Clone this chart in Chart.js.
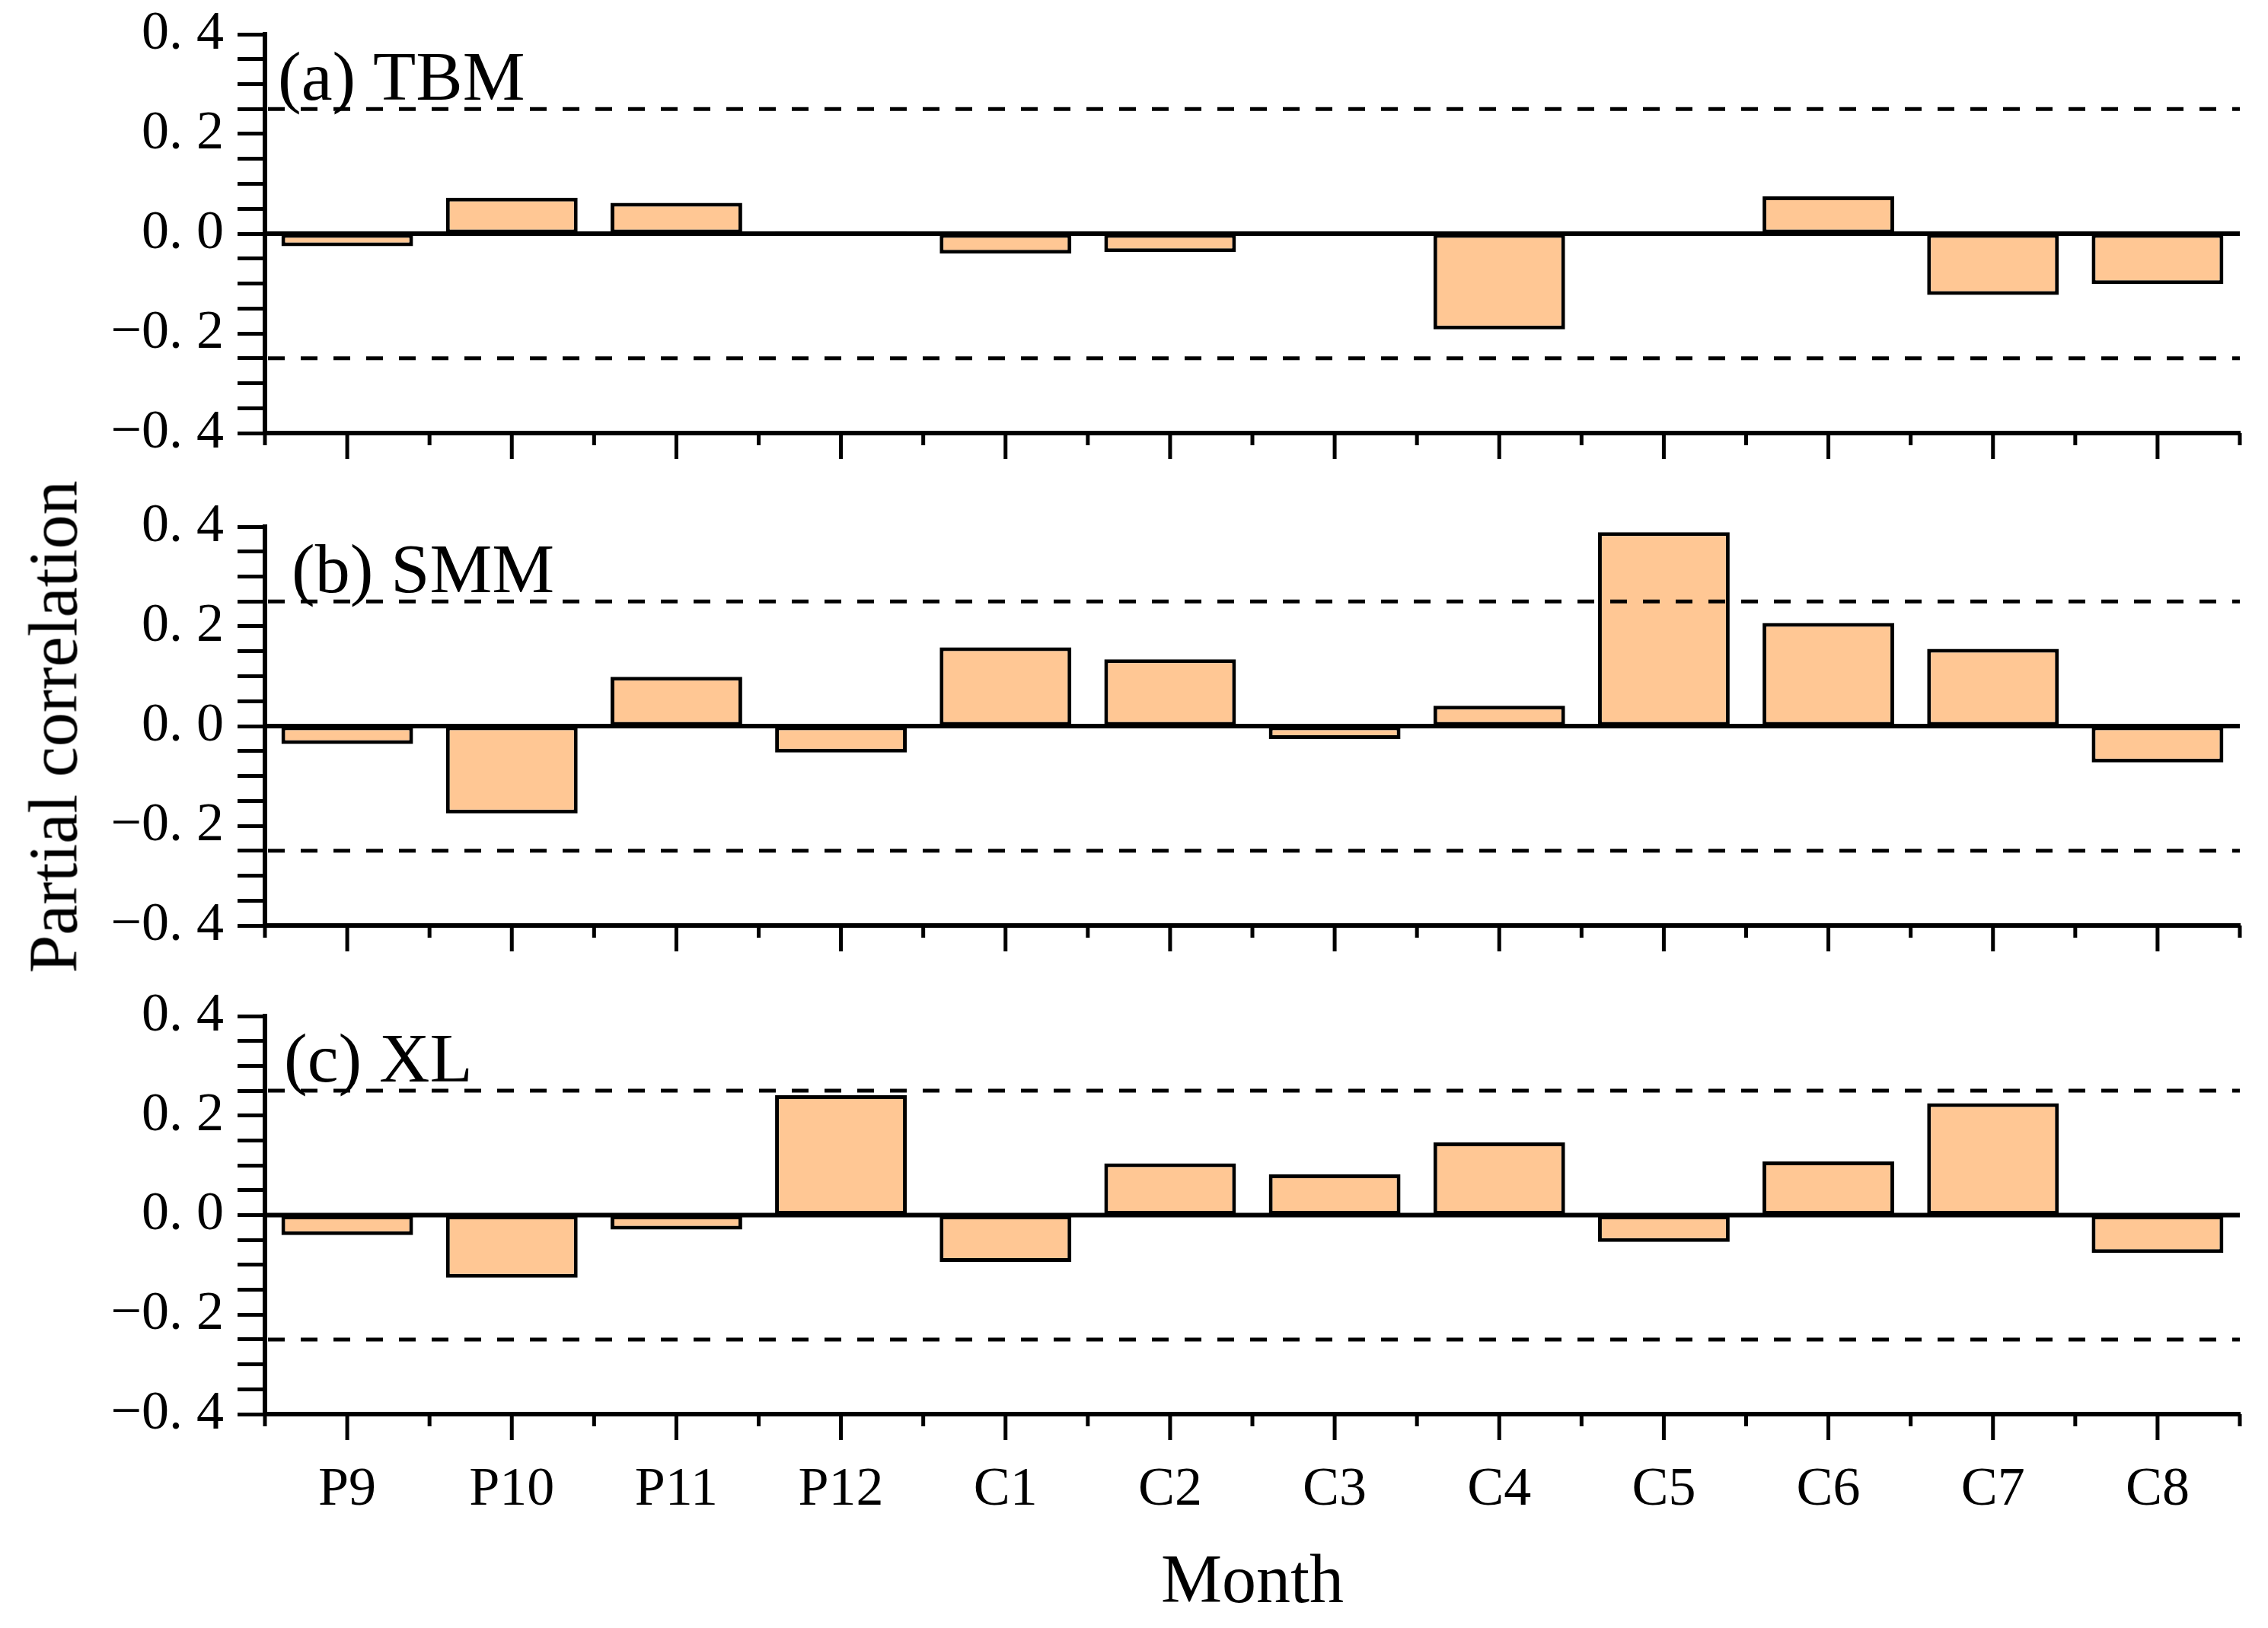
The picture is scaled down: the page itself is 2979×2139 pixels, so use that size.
<!DOCTYPE html>
<html>
<head>
<meta charset="utf-8">
<script src="https://cdn.jsdelivr.net/npm/chart.js@4.4.0/dist/chart.umd.min.js"></script>
<style>
    body { margin: 0; background: #fff; }
    #wrap { position: relative; width: 2979px; height: 2139px; overflow: hidden; background: #fff; }
    canvas { position: absolute; left: 0; }
    #yTitle {
        position: absolute; left: 70px; top: 955px;
        transform: translate(-50%, -50%) rotate(-90deg);
        font-family: "Liberation Serif", "DejaVu Serif", serif;
        font-size: 90px; white-space: nowrap; color: #000;
    }
</style>
</head>
<body>
<div id="wrap">
    <canvas id="chartA" width="2979" height="639" style="top:-9px"></canvas>
    <canvas id="chartB" width="2979" height="639" style="top:638px"></canvas>
    <canvas id="chartC" width="2979" height="858" style="top:1281px"></canvas>
    <div id="yTitle">Partial correlation</div>
</div>
<script>
// data
const months = ['P9', 'P10', 'P11', 'P12', 'C1', 'C2', 'C3', 'C4', 'C5', 'C6', 'C7', 'C8'];
const tbm = [-0.025, 0.072, 0.062, 0.005, -0.040, -0.037, 0, -0.192, 0, 0.075, -0.123, -0.101];
const smm = [-0.036, -0.175, 0.099, -0.053, 0.158, 0.134, -0.026, 0.041, 0.389, 0.207, 0.155, -0.073];
const xl = [-0.040, -0.126, -0.029, 0.241, -0.094, 0.104, 0.082, 0.146, -0.054, 0.108, 0.225, -0.076];
const sigLevels = [0.25, -0.25];
const yTicks = [-0.4, -0.2, 0, 0.2, 0.4];

const FONT = '"Liberation Serif", "DejaVu Serif", serif';

function fmtTick(v) {
    // 0.2 -> "0. 2", -0.2 -> "−0. 2"
    const s = Math.abs(v).toFixed(1).replace('.', '. ');
    return (v < -1e-9 ? '\u2212' : '') + s;
}

// dashed significance lines, zero line, x tick marks and panel label
const panelDecor = {
    id: 'panelDecor',
    afterDatasetsDraw(chart, args, opts) {
        const ctx = chart.ctx;
        const x = chart.scales.x, y = chart.scales.y;
        const area = chart.chartArea;
        ctx.save();
        // zero line
        ctx.strokeStyle = '#000';
        ctx.lineWidth = 6;
        ctx.beginPath();
        ctx.moveTo(area.left, y.getPixelForValue(0));
        ctx.lineTo(area.right, y.getPixelForValue(0));
        ctx.stroke();
        // dashed lines
        ctx.lineWidth = 5;
        ctx.setLineDash([22, 21]);
        sigLevels.forEach(v => {
            const py = y.getPixelForValue(v);
            ctx.beginPath();
            ctx.moveTo(area.left + 4, py);
            ctx.lineTo(area.right, py);
            ctx.stroke();
        });
        ctx.setLineDash([]);
        // x ticks: long at centres, short at boundaries
        const half = (x.getPixelForValue(1) - x.getPixelForValue(0)) / 2;
        ctx.lineWidth = 5;
        months.forEach((m, i) => {
            const cx = x.getPixelForValue(i);
            ctx.beginPath();
            ctx.moveTo(cx, area.bottom);
            ctx.lineTo(cx, area.bottom + 34);
            ctx.moveTo(cx - half, area.bottom);
            ctx.lineTo(cx - half, area.bottom + 16);
            if (i === months.length - 1) {
                ctx.moveTo(cx + half, area.bottom);
                ctx.lineTo(cx + half, area.bottom + 16);
            }
            ctx.stroke();
        });
        // panel label
        ctx.fillStyle = '#000';
        ctx.font = '92px ' + FONT;
        ctx.textAlign = 'left';
        ctx.textBaseline = 'alphabetic';
        ctx.fillText(opts.label, opts.labelX, area.top + 86);
        ctx.restore();
    }
};

function makePanel(id, values, label, labelX, showX) {
    const el = document.getElementById(id);
    return new Chart(el.getContext('2d'), {
        type: 'bar',
        data: {
            labels: months,
            datasets: [{
                data: values,
                backgroundColor: '#FFC794',
                borderColor: '#000',
                borderWidth: 5,
                borderSkipped: false,
                barPercentage: 0.8,
                categoryPercentage: 1.0
            }]
        },
        options: {
            responsive: false,
            devicePixelRatio: 1,
            animation: false,
            layout: { padding: { top: 42, right: 37, left: 0, bottom: 0 } },
            plugins: {
                legend: { display: false },
                tooltip: { enabled: false },
                panelDecor: { label: label, labelX: labelX }
            },
            scales: {
                x: {
                    grid: { display: false },
                    border: { display: true, color: '#000', width: 6 },
                    ticks: {
                        display: showX,
                        color: '#000',
                        padding: 49,
                        font: { family: FONT, size: 72 },
                        maxRotation: 0
                    },
                    title: {
                        display: showX,
                        text: 'Month',
                        color: '#000',
                        font: { family: FONT, size: 90 },
                        padding: { top: 0, bottom: 4 }
                    },
                    afterFit(scale) { scale.height = showX ? 281 : 61; }
                },
                y: {
                    min: -0.4,
                    max: 0.4,
                    afterBuildTicks(scale) {
                        const t = [];
                        for (let k = -8; k <= 8; k++) t.push({ value: k * 0.05 });
                        scale.ticks = t;
                    },
                    grid: {
                        drawOnChartArea: false,
                        drawTicks: true,
                        tickLength: 36,
                        tickWidth: 5,
                        tickColor: '#000'
                    },
                    border: { display: true, color: '#000', width: 6 },
                    ticks: {
                        color: '#000',
                        padding: 18,
                        font: { family: FONT, size: 72, lineHeight: 1.0 },
                        autoSkip: false,
                        callback: function(v) {
                            const hit = yTicks.find(t => Math.abs(t - v) < 1e-6);
                            return hit === undefined ? '' : fmtTick(hit);
                        }
                    },
                    afterFit(scale) { scale.width = 348; }
                }
            }
        },
        plugins: [panelDecor]
    });
}

document.addEventListener('DOMContentLoaded', function() {
    makePanel('chartA', tbm, '(a) TBM', 365, false);
    makePanel('chartB', smm, '(b) SMM', 383, false);
    makePanel('chartC', xl, '(c) XL', 373, true);
});
</script>
</body>
</html>
